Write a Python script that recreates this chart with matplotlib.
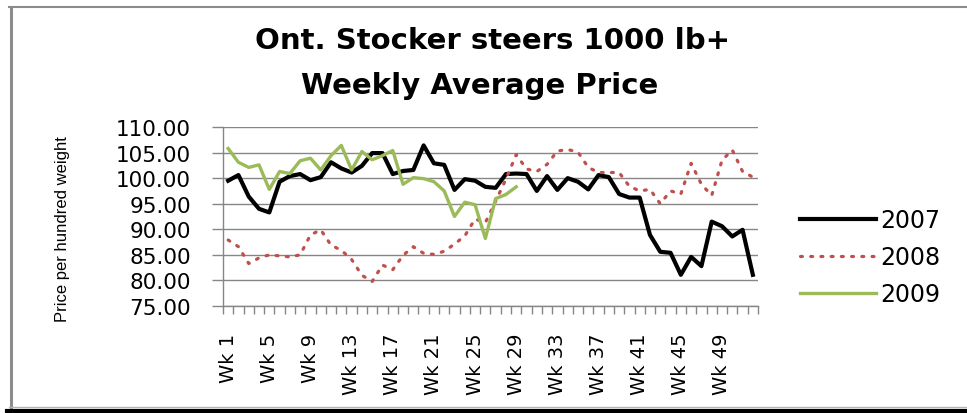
#!/usr/bin/env python3

# Ontario stocker steers 1000 lb+ weekly average price, 2007-2009

import numpy as np
import matplotlib
matplotlib.use("Agg")
import matplotlib.pyplot as plt
from matplotlib.lines import Line2D

weeks = [f"Wk {i}" for i in range(1, 53)]
years = ["2007", "2008", "2009"]

price_2007 = [99.5, 100.6, 96.4, 94.0, 93.3, 99.3, 100.4, 100.8, 99.6, 100.2,
              103.1, 101.9, 101.1, 102.4, 104.9, 104.9, 100.8, 101.4, 101.6, 106.4,
              102.9, 102.6, 97.7, 99.8, 99.5, 98.3, 98.1, 100.8, 100.9, 100.8,
              97.5, 100.4, 97.7, 100.0, 99.3, 97.8, 100.6, 100.2, 96.9, 96.2,
              96.2, 88.9, 85.6, 85.4, 81.1, 84.6, 82.8, 91.5, 90.6, 88.6,
              89.9, 81.1]
price_2008 = [87.9, 86.6, 83.3, 84.4, 85.0, 84.8, 84.6, 85.0, 88.9, 89.9,
              86.9, 85.9, 84.1, 81.0, 79.8, 83.0, 82.1, 84.9, 86.6, 85.3,
              85.1, 85.7, 87.1, 88.7, 92.0, 91.3, 95.5, 99.8, 104.6, 101.8,
              101.3, 102.7, 105.3, 105.6, 105.1, 102.1, 101.1, 101.1, 101.1, 98.4,
              97.5, 97.8, 95.0, 97.5, 96.9, 102.9, 98.8, 96.6, 103.5, 105.5,
              101.3, 100.2]
price_2009 = [105.8, 103.1, 102.1, 102.6, 97.8, 101.3, 100.9, 103.4, 103.9, 101.6,
              104.4, 106.4, 101.6, 105.2, 103.6, 104.4, 105.4, 98.8, 100.1, 99.9,
              99.3, 97.5, 92.5, 95.3, 94.8, 88.2, 96.0, 96.8, 98.3]

W, H = 967, 414
grey = '#868686'

fig = plt.figure(figsize=(W / 100, H / 100), dpi=100)
# axes box measured in pixels from the reference
ax = fig.add_axes([223 / W, 1 - 307 / H, (758 - 223) / W, (307 - 128) / H])

x = np.arange(len(weeks))
ax.plot(x, price_2007, color='black', lw=3, label=years[0])
ax.plot(x, price_2008, color='#C0504D', lw=2.3, linestyle=(0, (0.6, 2.6)),
        dash_capstyle='round', label=years[1])
ax.plot(x[:len(price_2009)], price_2009, color='#9BBB59', lw=2.4, label=years[2])

# y axis
ax.set_ylim(75, 110)
yt = np.arange(75, 111, 5)
ax.set_yticks(yt)
ax.set_yticklabels([f"{v:.2f}" for v in yt], family='DejaVu Sans', fontsize=15.5)
ax.tick_params(axis='y', length=8, width=1, color=grey, direction='out', pad=15)
ax.grid(axis='y', color=grey, lw=1)
ax.set_axisbelow(True)

# x axis: labels every 4 weeks, tick marks between categories
ax.set_xlim(-0.5, len(weeks) - 0.5)
ax.set_xticks(x[::4])
ax.set_xticklabels(weeks[::4], rotation=90, va='top', ha='center',
                   family='DejaVu Sans', fontsize=14)
ax.set_xticks(np.arange(-0.5, len(weeks), 1), minor=True)
ax.tick_params(axis='x', which='major', length=0, pad=19)
ax.tick_params(axis='x', which='minor', length=6, width=1, color=grey, direction='out')

for side in ['top', 'right']:
    ax.spines[side].set_visible(False)
for side in ['left', 'bottom']:
    ax.spines[side].set_color(grey)
    ax.spines[side].set_linewidth(1)

fig.text(62 / W, 1 - 229 / H, 'Price per hundred weight', rotation=90,
         ha='center', va='center', fontsize=12,
         family=['Liberation Sans Narrow', 'Liberation Sans'])

# title, two lines placed separately
fig.text(493 / W, 1 - 49 / H, 'Ont. Stocker steers 1000 lb+', ha='center',
         va='baseline', fontsize=21, fontweight='bold', family='DejaVu Sans')
fig.text(480 / W, 1 - 94 / H, 'Weekly Average Price', ha='center',
         va='baseline', fontsize=21, fontweight='bold', family='DejaVu Sans')

leg = fig.legend(loc='center left', bbox_to_anchor=(800 / W, 1 - 258 / H),
                 frameon=False, borderpad=0, borderaxespad=0, handlelength=3.2,
                 handletextpad=0.22, labelspacing=0.55,
                 prop={'family': 'DejaVu Sans', 'size': 17})

# frame around the picture
fig.add_artist(Line2D([9 / W, 1], [1 - 8 / H] * 2, color='#8c8c8c', lw=1.5))
fig.add_artist(Line2D([10.5 / W] * 2, [1 - 8 / H, 1 - 408 / H], color='#8c8c8c', lw=2.2))
fig.add_artist(Line2D([9 / W, 1], [1 - 408 / H] * 2, color='#b4b4b4', lw=1))
fig.add_artist(Line2D([7 / W, 1], [1 - 412 / H] * 2, color='black', lw=3))

fig.savefig('out.png', dpi=100)
